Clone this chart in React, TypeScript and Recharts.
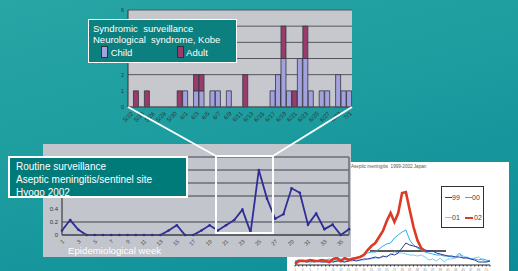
import React from 'react';
import { BarChart, Bar, LineChart, Line, XAxis, YAxis, CartesianGrid, ReferenceLine } from 'recharts';

// Kobe syndromic surveillance, daily cases 5/22 - 7/1
const days = [
  '5/22', '5/23', '5/24', '5/25', '5/26', '5/27', '5/28', '5/29', '5/30', '5/31',
  '6/1', '6/2', '6/3', '6/4', '6/5', '6/6', '6/7', '6/8', '6/9', '6/10',
  '6/11', '6/12', '6/13', '6/14', '6/15', '6/16', '6/17', '6/18', '6/19', '6/20',
  '6/21', '6/22', '6/23', '6/24', '6/25', '6/26', '6/27', '6/28', '6/29', '6/30',
  '7/1',
];
const childCases = [0, 0, 0, 0, 0, 0, 0, 0, 0, 0, 1, 0, 1, 1, 0, 1, 1, 0, 1, 0, 0, 0, 0, 0, 0, 0, 1, 2, 3, 1, 0, 3, 3, 1, 0, 1, 1, 0, 2, 1, 1];
const adultCases = [0, 1, 0, 1, 0, 0, 0, 0, 0, 1, 0, 0, 1, 1, 0, 0, 0, 0, 0, 0, 0, 2, 0, 0, 0, 0, 0, 0, 2, 0, 1, 0, 2, 0, 0, 0, 0, 0, 0, 0, 0];
const caseTicks = [0, 1, 2, 3, 4, 5, 6];
const hiddenCaseTicks = [3, 4, 5]; // under the legend box

// Hyogo sentinel sites, aseptic meningitis per site, weeks 1-36
const hyogoWeeks = Array.from({ length: 36 }, (_, i) => String(i + 1));
const hyogoRate = [
  0.07, 0.23, 0.08, 0, 0, 0, 0, 0, 0, 0, 0, 0, 0, 0.07, 0.15, 0, 0, 0.07,
  0.15, 0.07, 0.15, 0.23, 0.39, 0.04, 1.0, 0.56, 0.25, 0.32, 0.72, 0.65, 0.16, 0.33, 0.09, 0.16, 0, 0.09,
];
const rateTicks = [0, 0.2, 0.4, 0.6, 0.8, 1.0, 1.2];

// Japan national, weeks 1-52, four seasons
const japan99 = [3, 4, 4, 3, 4, 3, 4, 3, 3, 4, 3, 4, 4, 3, 4, 5, 4, 5, 6, 6, 7, 8, 7, 9, 8, 11, 10, 12, 17, 22, 20, 19, 18, 16, 15, 14, 14, 12, 11, 10, 9, 9, 8, 8, 7, 7, 6, 5, 3, 3, 3, 4];
const japan00 = [4, 5, 5, 4, 5, 5, 4, 5, 5, 6, 5, 5, 6, 5, 6, 7, 7, 8, 10, 12, 13, 13, 16, 19, 21, 22, 27, 30, 33, 35, 25, 20, 17, 15, 13, 12, 11, 10, 10, 9, 9, 8, 8, 12, 7, 8, 6, 6, 5, 6, 5, 4];
const japan01 = [3, 3, 4, 3, 2, 4, 3, 3, 4, 3, 3, 4, 3, 3, 4, 4, 5, 5, 5, 6, 6, 7, 7, 8, 9, 10, 13, 12, 12, 11, 10, 10, 9, 10, 8, 5, 6, 4, 7, 3, 6, 6, 7, 10, 9, 7, 6, 7, 8, 5, 3, 4];
const japan02 = [1, 4, 4, 4, 5, 4, 4, 5, 4, 3, 6, 7, 4, 7, 5, 6, 7, 8, 10, 15, 19, 22, 28, 34, 44, 52, 43, 52, 72, 73, 55, 38, 25, 17, 14];

const dayRows = days.map((day, i) => ({ day, child: childCases[i], adult: adultCases[i] }));
const hyogoRows = hyogoWeeks.map((week, i) => ({ week, rate: hyogoRate[i] }));
const japanRows = japan99.map((v, i) => ({
  w: i,
  y99: v,
  y00: japan00[i],
  y01: japan01[i],
  y02: i < japan02.length ? japan02[i] : null,
}));

const font = "'Liberation Sans', Arial, sans-serif";

const Swatch = ({ color }: { color: string }) => (
  <span style={{ display: 'inline-block', width: 5, height: 10, background: color, border: '0.8px solid #333', verticalAlign: -2 }} />
);

export default function App() {
  return (
    <div
      style={{
        position: 'absolute',
        left: 0,
        top: 0,
        width: 518,
        height: 271,
        overflow: 'hidden',
        fontFamily: font,
        background: 'linear-gradient(165deg, #28a5a5 0%, #1d9d9f 45%, #0c8c98 100%)',
      }}
    >
      {/* daily bar chart */}
      <div style={{ position: 'absolute', left: 100, top: 0 }}>
        <BarChart width={260} height={135} data={dayRows} margin={{ top: 10, right: 8, left: 18, bottom: 0 }} barCategoryGap={0} barGap={0}>
          <CartesianGrid vertical={false} fill="#c6c8ce" fillOpacity={1} stroke="#55565c" strokeWidth={1} />
          <XAxis
            dataKey="day"
            interval={1}
            angle={-45}
            textAnchor="end"
            height={28}
            tickLine={false}
            tickSize={2}
            axisLine={{ stroke: '#55565c' }}
            tick={{ fontSize: 6, fill: '#333' }}
          />
          <YAxis
            width={10}
            domain={[0, 6]}
            ticks={caseTicks}
            tickLine={false}
            tickSize={2}
            axisLine={{ stroke: '#333' }}
            tick={{ fontSize: 5.5, fill: '#333' }}
            tickFormatter={(v: number) => (hiddenCaseTicks.includes(v) ? '' : String(v))}
          />
          <Bar dataKey="child" stackId="a" fill="#a2a3de" stroke="#35353f" strokeWidth={0.8} isAnimationActive={false} />
          <Bar dataKey="adult" stackId="a" fill="#9a3b6b" stroke="#35353f" strokeWidth={0.8} isAnimationActive={false} />
        </BarChart>
      </div>

      {/* Japan chart (white panel, behind the Hyogo panel) */}
      <div style={{ position: 'absolute', left: 287, top: 162, width: 222, height: 109, background: '#fff' }}>
        <LineChart width={222} height={109} data={japanRows} margin={{ top: 23, right: 19, left: 8, bottom: 0 }}>
          <XAxis
            dataKey="w"
            type="number"
            domain={[0, 51]}
            ticks={japan99.map((_, i) => i)}
            interval={0}
            tickSize={1.5}
            height={6}
            axisLine={{ stroke: '#222' }}
            tickLine={{ stroke: '#333' }}
            tick={{ fontSize: 3, fill: '#888' }}
            tickFormatter={(v: number) => (v % 2 === 0 ? String(v + 1) : '')}
          />
          <YAxis hide domain={[0, 80]} />
          <ReferenceLine segment={[{ x: 19.6, y: 14 }, { x: 39.5, y: 14 }]} stroke="#222" strokeWidth={1.3} />
          <Line dataKey="y01" stroke="#72d0f2" strokeWidth={1} dot={false} isAnimationActive={false} />
          <Line dataKey="y00" stroke="#2aaeea" strokeWidth={1} dot={false} isAnimationActive={false} />
          <Line dataKey="y99" stroke="#34349a" strokeWidth={1} dot={false} isAnimationActive={false} />
          <Line dataKey="y02" stroke="#dd3a26" strokeWidth={2.6} dot={false} isAnimationActive={false} />
        </LineChart>
      </div>
      <div style={{ position: 'absolute', left: 351, top: 164, fontSize: 4.6, color: '#555', whiteSpace: 'pre' }}>
        Aseptic meningitis  1999-2002 Japan
      </div>
      <div
        style={{
          position: 'absolute',
          left: 441,
          top: 186,
          width: 41,
          height: 40,
          background: '#fff',
          border: '1px solid #333',
          fontSize: 7,
          color: '#444',
        }}
      >
        <div style={{ position: 'absolute', left: 3, top: 7, whiteSpace: 'nowrap' }}>
          <span style={{ display: 'inline-block', width: 7, height: 1, background: '#34349a', verticalAlign: 2 }} />99
        </div>
        <div style={{ position: 'absolute', left: 23, top: 7, whiteSpace: 'nowrap' }}>
          <span style={{ display: 'inline-block', width: 7, height: 1, background: '#2aaeea', verticalAlign: 2 }} />00
        </div>
        <div style={{ position: 'absolute', left: 3, top: 27, whiteSpace: 'nowrap' }}>
          <span style={{ display: 'inline-block', width: 7, height: 1, background: '#72d0f2', verticalAlign: 2 }} />01
        </div>
        <div style={{ position: 'absolute', left: 23, top: 27, whiteSpace: 'nowrap' }}>
          <span style={{ display: 'inline-block', width: 8, height: 2.5, background: '#dd3a26', verticalAlign: 1, marginRight: 1 }} />02
        </div>
      </div>

      {/* Hyogo weekly line chart */}
      <div style={{ position: 'absolute', left: 43, top: 144, width: 308, height: 113, background: '#c3c5cc' }}>
        <LineChart width={308} height={113} data={hyogoRows} margin={{ top: 13, right: 1, left: 5, bottom: 0 }}>
          <CartesianGrid vertical={false} stroke="#6a6d76" strokeWidth={1.5} />
          <XAxis
            dataKey="week"
            interval={1}
            angle={-45}
            textAnchor="end"
            height={22}
            tickLine={false}
            tickSize={2}
            axisLine={{ stroke: '#55575f', strokeWidth: 1.5 }}
            tick={{ fontSize: 5.5, fill: '#444' }}
          />
          <YAxis
            width={14}
            domain={[0, 1.2]}
            ticks={rateTicks}
            tickLine={false}
            tickSize={2}
            axisLine={{ stroke: '#55575f', strokeWidth: 1.5 }}
            tick={{ fontSize: 6, fill: '#333' }}
            tickFormatter={(v: number) => (v > 0.5 ? '' : String(v))}
          />
          <YAxis yAxisId="r" orientation="right" width={1} tick={false} tickLine={false} axisLine={{ stroke: '#6a6d76', strokeWidth: 1.5 }} />
          <Line
            dataKey="rate"
            stroke="#2e2e96"
            strokeWidth={1.8}
            dot={{ r: 1.3, fill: '#2e2e96', stroke: 'none' }}
            isAnimationActive={false}
          />
        </LineChart>
        <div style={{ position: 'absolute', left: 25, top: 101, fontSize: 9.7, color: '#fff', whiteSpace: 'nowrap' }}>
          Epidemiological week
        </div>
      </div>

      {/* zoom connectors */}
      <svg width={518} height={271} style={{ position: 'absolute', left: 0, top: 0 }}>
        <line x1={128} y1={107} x2={216} y2={156} stroke="#fff" strokeWidth={2} />
        <line x1={352} y1={107} x2={273} y2={156} stroke="#fff" strokeWidth={2} />
        <rect x={216} y={156} width={57} height={77} fill="none" stroke="#fff" strokeWidth={2} />
      </svg>

      {/* annotation boxes */}
      <div
        style={{
          position: 'absolute',
          left: 88,
          top: 19,
          width: 143,
          height: 39,
          background: '#0b807e',
          border: '1.5px solid #fff',
          color: '#fff',
          fontSize: 9.5,
          lineHeight: '11.3px',
          padding: '3px 0 0 4px',
          boxSizing: 'content-box',
          whiteSpace: 'pre',
        }}
      >
        <div>Syndromic  surveillance</div>
        <div>Neurological  syndrome, Kobe</div>
        <div style={{ position: 'relative', height: 12 }}>
          <span style={{ position: 'absolute', left: 8 }}>
            <Swatch color="#a2a3de" /> Child
          </span>
          <span style={{ position: 'absolute', left: 84 }}>
            <Swatch color="#9a3b6b" /> Adult
          </span>
        </div>
      </div>
      <div
        style={{
          position: 'absolute',
          left: 8,
          top: 156,
          width: 180,
          height: 42,
          background: '#007b79',
          border: '2px solid #fff',
          color: '#fff',
          fontSize: 10,
          lineHeight: '12.8px',
          padding: '3px 0 0 6px',
          boxSizing: 'border-box',
          whiteSpace: 'nowrap',
        }}
      >
        <div>Routine surveillance</div>
        <div>Aseptic meningitis/sentinel site</div>
        <div>Hyogo 2002</div>
      </div>
    </div>
  );
}
